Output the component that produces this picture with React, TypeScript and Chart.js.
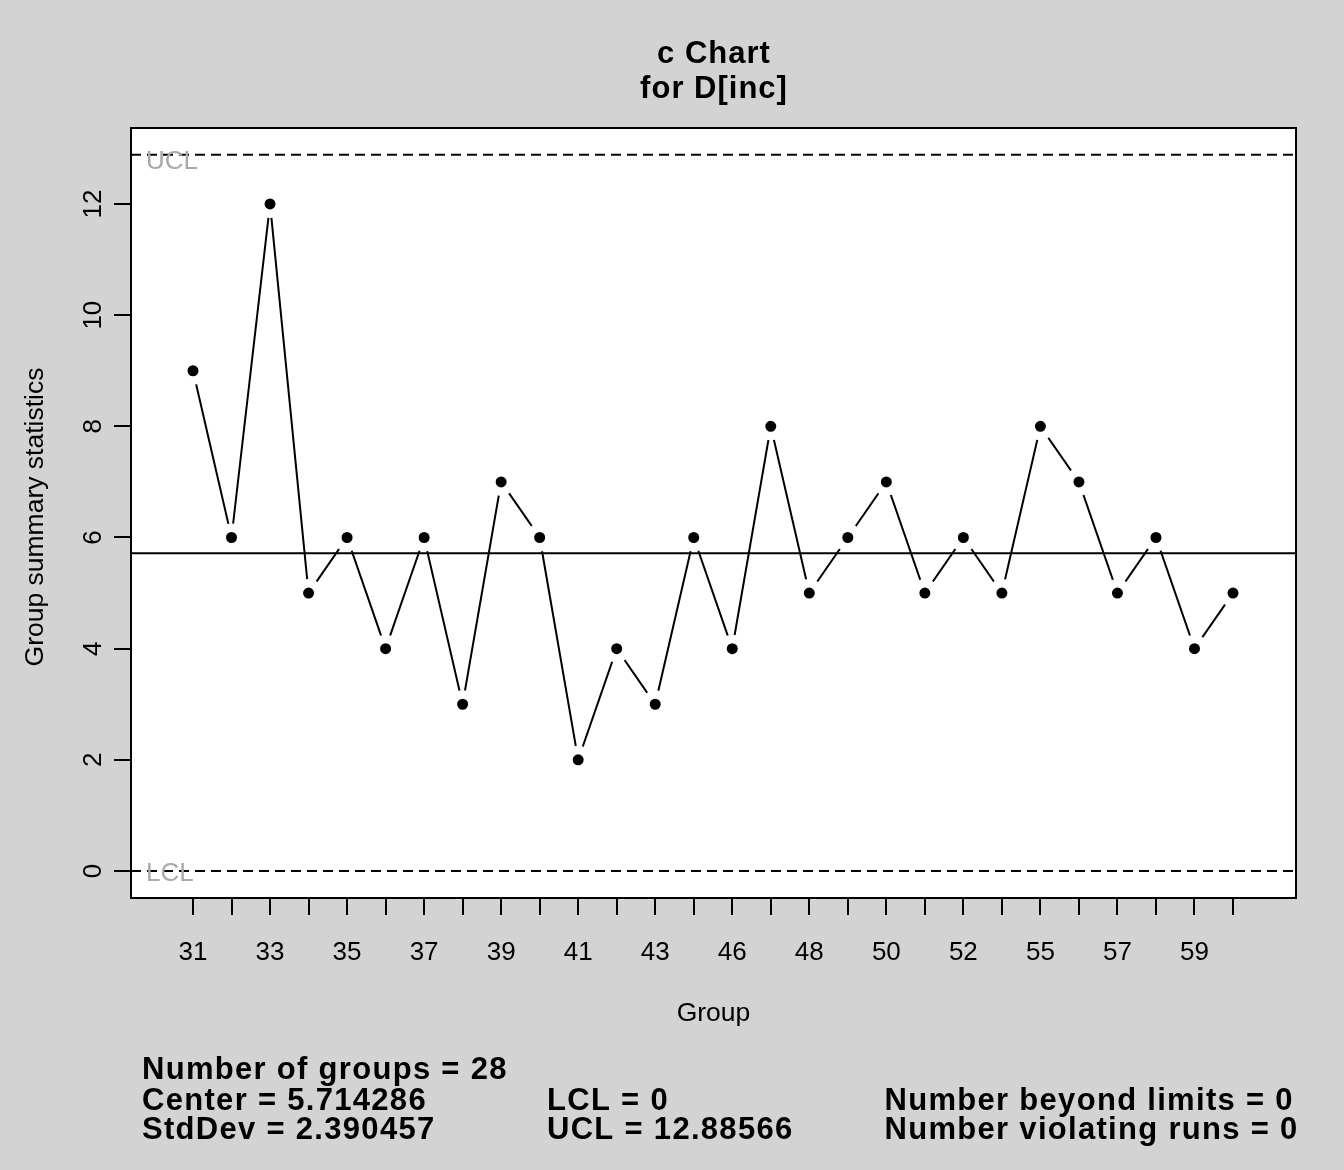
import React, { useEffect, useRef } from 'react';
import { Chart, registerables } from 'chart.js';

Chart.register(...registerables);

// ---- data ----
const GROUPS = ['31', '32', '33', '34', '35', '36', '37', '38', '39', '40', '41', '42', '43', '44', '46', '47', '48', '49', '50', '51', '52', '53', '55', '56', '57', '58', '59', '60'];
const VALUES = [9, 6, 12, 5, 6, 4, 6, 3, 7, 6, 2, 4, 3, 6, 4, 8, 5, 6, 7, 5, 6, 5, 8, 7, 5, 6, 4, 5];
const Y_TICKS = [0, 2, 4, 6, 8, 10, 12];
const CENTER = 5.714286;
const LCL = 0;
const UCL = 12.88566;
const TITLE_LINES = ['c Chart', 'for D[inc]'];
const X_TITLE = 'Group';
const Y_TITLE = 'Group summary statistics';
const STATS_LEFT = ['Number of groups = 28', 'Center = 5.714286', 'StdDev = 2.390457'];
const STATS_MID = ['LCL = 0', 'UCL = 12.88566'];
const STATS_RIGHT = ['Number beyond limits = 0', 'Number violating runs = 0'];

// ---- axis ranges / styles ----
const X_MIN = -1.6096;
const X_MAX = 28.6355;
const Y_MIN = -0.4858;
const Y_MAX = 13.367;
const BG = '#d3d3d3';
const FONT = '"Liberation Sans", Arial, Helvetica, sans-serif';

const decor = {
  id: 'decor',
  beforeDraw(chart: any) {
    const { ctx, chartArea: a, width, height } = chart;
    ctx.save();
    ctx.fillStyle = BG;
    ctx.fillRect(0, 0, width, height);
    ctx.fillStyle = '#ffffff';
    ctx.fillRect(a.left, a.top, a.right - a.left, a.bottom - a.top);
    ctx.restore();
  },
  afterDraw(chart: any) {
    const { ctx, chartArea: a, scales } = chart;
    const ys = scales.y;
    const cx = (a.left + a.right) / 2;
    ctx.save();
    // plot box
    ctx.strokeStyle = '#000';
    ctx.lineWidth = 2;
    ctx.strokeRect(a.left, a.top, a.right - a.left, a.bottom - a.top);

    // y tick labels (rotated)
    ctx.fillStyle = '#000';
    ctx.font = `26px ${FONT}`;
    ctx.textAlign = 'center';
    ctx.textBaseline = 'alphabetic';
    for (const v of Y_TICKS) {
      const y = ys.getPixelForValue(v);
      ctx.save();
      ctx.translate(101, y);
      ctx.rotate(-Math.PI / 2);
      ctx.fillText(String(v), 0, 0);
      ctx.restore();
    }

    // axis titles
    ctx.font = `26.5px ${FONT}`;
    ctx.fillText(X_TITLE, cx, 1020.5);
    ctx.save();
    ctx.translate(43, 517);
    ctx.rotate(-Math.PI / 2);
    ctx.fillText(Y_TITLE, 0, 0);
    ctx.restore();

    // limit labels
    ctx.fillStyle = '#a9a9a9';
    ctx.font = `26px ${FONT}`;
    ctx.textAlign = 'left';
    ctx.fillText('UCL', 146, ys.getPixelForValue(UCL) + 14);
    ctx.fillText('LCL', 146, ys.getPixelForValue(LCL) + 10.5);

    // title
    ctx.fillStyle = '#000';
    ctx.font = `bold 31px ${FONT}`;
    (ctx as any).letterSpacing = '1px';
    ctx.textAlign = 'center';
    ctx.fillText(TITLE_LINES[0], cx + 0.5, 62.5);
    ctx.fillText(TITLE_LINES[1], cx + 0.5, 98);

    // stats
    (ctx as any).letterSpacing = '1.3px';
    ctx.textAlign = 'left';
    const rows = [1079, 1109.5, 1139];
    STATS_LEFT.forEach((s, i) => ctx.fillText(s, 142, rows[i]));
    STATS_MID.forEach((s, i) => ctx.fillText(s, 547, rows[i + 1]));
    STATS_RIGHT.forEach((s, i) => ctx.fillText(s, 884.5, rows[i + 1]));
    (ctx as any).letterSpacing = '0px';
    ctx.restore();
  },
};

export default function App() {
  const ref = useRef<HTMLCanvasElement | null>(null);

  useEffect(() => {
    if (!ref.current) return;
    const lim = (v: number) => [
      { x: X_MIN, y: v },
      { x: X_MAX, y: v },
    ];
    const chart = new Chart(ref.current, {
      type: 'line',
      data: {
        datasets: [
          { data: lim(UCL), borderColor: '#000', borderWidth: 2, borderDash: [10, 6], pointRadius: 0 },
          { data: lim(LCL), borderColor: '#000', borderWidth: 2, borderDash: [10, 6], pointRadius: 0 },
          { data: lim(CENTER), borderColor: '#000', borderWidth: 2, pointRadius: 0 },
          {
            data: VALUES.map((v, i) => ({ x: i, y: v })),
            borderColor: '#000',
            borderWidth: 2,
            tension: 0,
            pointRadius: 9.75,
            pointBorderWidth: 8.5,
            pointBackgroundColor: '#000',
            pointBorderColor: '#ffffff',
          },
        ],
      },
      options: {
        animation: false,
        responsive: false,
        devicePixelRatio: 1,
        layout: { padding: { top: 128, right: 48, left: 0, bottom: 0 } },
        plugins: {
          legend: { display: false },
          tooltip: { enabled: false },
          title: { display: false },
        },
        scales: {
          x: {
            type: 'linear',
            min: X_MIN,
            max: X_MAX,
            afterBuildTicks: (s: any) => {
              s.ticks = GROUPS.map((_, i) => ({ value: i }));
            },
            afterFit: (s: any) => {
              s.height = 272;
            },
            grid: { drawOnChartArea: false, drawTicks: true, tickLength: 17, color: '#000', lineWidth: 2 },
            border: { display: true, color: '#000', width: 2 },
            ticks: {
              autoSkip: false,
              maxRotation: 0,
              minRotation: 0,
              padding: 22,
              color: '#000',
              font: { family: FONT, size: 26 },
              callback: (_v: any, i: number) => (i % 2 === 0 ? GROUPS[i] : ''),
            },
          },
          y: {
            type: 'linear',
            min: Y_MIN,
            max: Y_MAX,
            afterBuildTicks: (s: any) => {
              s.ticks = Y_TICKS.map((v) => ({ value: v }));
            },
            afterFit: (s: any) => {
              s.width = 131;
            },
            grid: { drawOnChartArea: false, drawTicks: true, tickLength: 17, color: '#000', lineWidth: 2 },
            border: { display: true, color: '#000', width: 2 },
            ticks: { display: false },
          },
        },
      },
      plugins: [decor],
    } as any);
    return () => chart.destroy();
  }, []);

  return (
    <div style={{ position: 'fixed', left: 0, top: 0, width: 1344, height: 1170, background: BG }}>
      <canvas ref={ref} width={1344} height={1170} style={{ display: 'block' }} />
    </div>
  );
}
